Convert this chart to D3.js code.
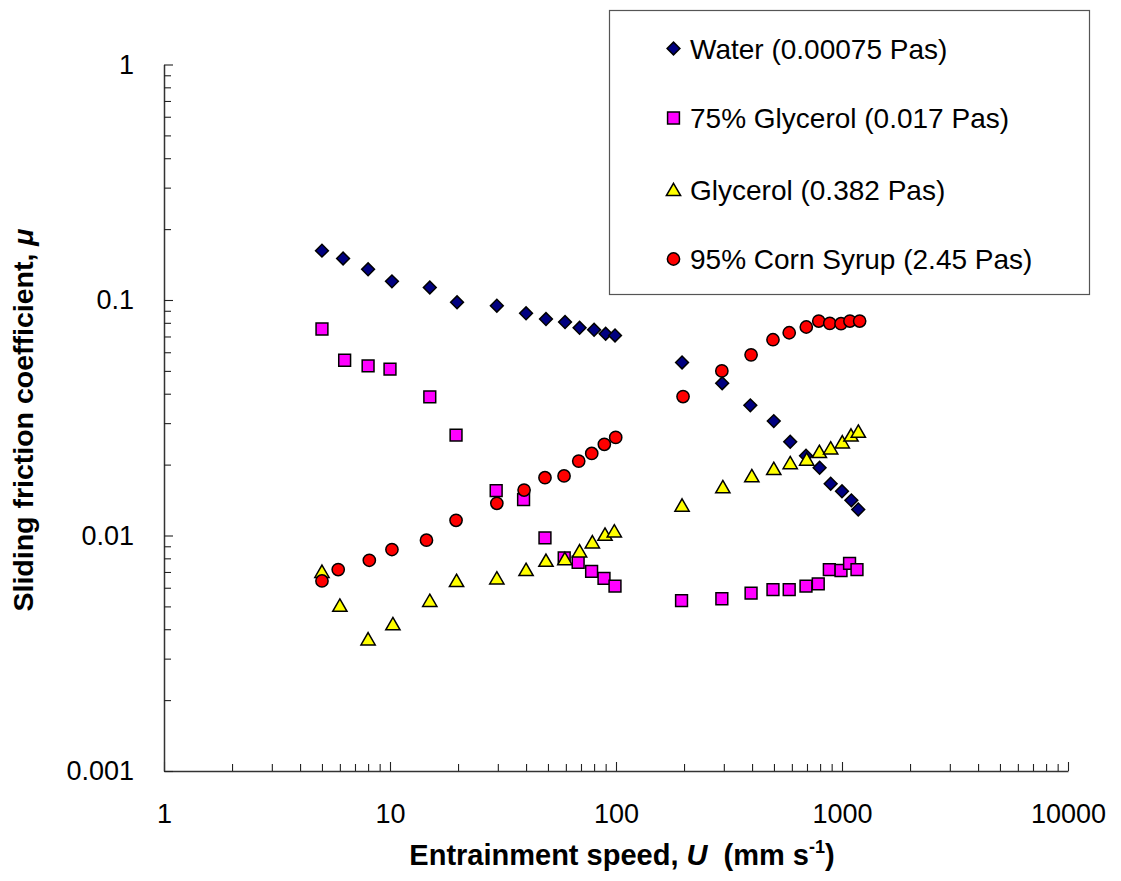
<!DOCTYPE html>
<html>
<head>
<meta charset="utf-8">
<script src="https://cdn.jsdelivr.net/npm/d3@7"></script>
<style>
  html, body { margin: 0; padding: 0; background: #fff; }
  svg { display: block; font-family: "Liberation Sans", Arial, sans-serif; }
</style>
</head>
<body>
<svg id="chart" width="1121" height="881"></svg>
<script>
// Entrainment speed U (mm/s) and sliding friction coefficient for each fluid
const speedWater = [5, 6.2, 8, 10.2, 15, 19.8, 29.7, 40, 49, 59.5, 69, 80, 90, 99, 196, 295, 393, 499, 590, 693, 796, 891, 1000, 1100, 1180];
const muWater    = [0.162, 0.150, 0.135, 0.120, 0.113, 0.0978, 0.0946, 0.0878, 0.083, 0.0806, 0.0762, 0.0747, 0.0719, 0.0707, 0.0543, 0.0443, 0.0357, 0.0306, 0.0250, 0.0218, 0.0194, 0.0166, 0.0154, 0.0141, 0.0129];

const speedGly75 = [5, 6.3, 8, 10, 15, 19.6, 29.5, 39, 48.5, 59, 68, 78, 88.5, 99, 195, 294, 396, 495, 584, 693, 785, 879, 990, 1080, 1165];
const muGly75    = [0.0753, 0.0555, 0.0525, 0.0509, 0.0388, 0.0267, 0.0155, 0.0142, 0.00977, 0.00804, 0.00770, 0.00704, 0.00658, 0.00610, 0.00529, 0.00539, 0.00569, 0.00589, 0.00589, 0.00610, 0.00623, 0.00716, 0.00710, 0.00762, 0.00716];

const speedGly = [5, 6, 8, 10.3, 15, 19.7, 29.7, 40, 49, 59.4, 69, 78.6, 89.4, 98.3, 196, 297, 399, 499, 590, 698, 794, 891, 1003, 1096, 1181];
const muGly    = [0.00691, 0.00496, 0.00357, 0.00414, 0.00520, 0.00632, 0.00648, 0.00704, 0.00770, 0.00783, 0.00844, 0.00922, 0.00993, 0.01026, 0.0132, 0.0158, 0.0176, 0.0189, 0.0200, 0.0207, 0.0223, 0.0231, 0.0245, 0.0262, 0.0272];

const speedCorn = [5, 5.9, 8.1, 10.2, 14.5, 19.6, 29.7, 39.2, 48.5, 58.9, 68.4, 78.1, 88.8, 99.7, 198, 294, 396, 495, 584, 695, 789, 883, 990, 1084, 1197];
const muCorn    = [0.00641, 0.00717, 0.00785, 0.00872, 0.00955, 0.0116, 0.0137, 0.0156, 0.0176, 0.0179, 0.0207, 0.0223, 0.0244, 0.0261, 0.0389, 0.0500, 0.0585, 0.0678, 0.0726, 0.0768, 0.0814, 0.0796, 0.0793, 0.0814, 0.0814];

const seriesNames = ["Water (0.00075 Pas)", "75% Glycerol (0.017 Pas)", "Glycerol (0.382 Pas)", "95% Corn Syrup (2.45 Pas)"];
const xTickLabels = ["1", "10", "100", "1000", "10000"];
const yTickLabels = ["0.001", "0.01", "0.1", "1"];

const series = [
  { name: seriesNames[0], u: speedWater, mu: muWater, shape: "diamond",  fill: "#000080" },
  { name: seriesNames[1], u: speedGly75, mu: muGly75, shape: "square",   fill: "#FF00FF" },
  { name: seriesNames[2], u: speedGly,   mu: muGly,   shape: "triangle", fill: "#FFFF00" },
  { name: seriesNames[3], u: speedCorn,  mu: muCorn,  shape: "circle",   fill: "#FF0000" }
];

const svg = d3.select("#chart");
const x = d3.scaleLog().domain([1, 10000]).range([164, 1068]);
const y = d3.scaleLog().domain([0.001, 1]).range([771, 64.5]);

// tick values: every 1..9 multiple in each decade
function logTicks(lo, hi) {
  const t = [];
  for (let d = lo; d < hi; d *= 10) for (let m = 1; m < 10; m++) t.push(+(d * m).toPrecision(6));
  t.push(hi);
  return t;
}
const isMajor = v => Math.abs(Math.log10(v) - Math.round(Math.log10(v))) < 1e-9;

const xTicks = logTicks(1, 10000);
const yTicks = logTicks(0.001, 1);

// x axis (ticks point inward)
const gx = svg.append("g").attr("transform", "translate(0,771)")
  .call(d3.axisBottom(x).tickValues(xTicks).tickSizeInner(-9).tickSizeOuter(0).tickPadding(33)
    .tickFormat(v => isMajor(v) ? xTickLabels[Math.round(Math.log10(v))] : ""));
gx.selectAll(".tick line").attr("y2", d => isMajor(d) ? -9 : -7).attr("stroke", "#222").attr("stroke-width", 1.1);

// y axis (ticks point inward)
const gy = svg.append("g").attr("transform", "translate(164,0)")
  .call(d3.axisLeft(y).tickValues(yTicks).tickSizeInner(-9).tickSizeOuter(0).tickPadding(30)
    .tickFormat(v => isMajor(v) ? yTickLabels[Math.round(Math.log10(v)) + 3] : ""));
gy.selectAll(".tick line").attr("x2", d => isMajor(d) ? 9 : 7).attr("stroke", "#222").attr("stroke-width", 1.1);

[gx, gy].forEach(g => {
  g.select(".domain").attr("stroke", "#333").attr("stroke-width", 1.5);
  g.selectAll(".tick text").attr("font-family", "Liberation Sans, Arial, sans-serif")
    .attr("font-size", 27).attr("fill", "#000");
});

// marker generator
function markerPath(shape) {
  switch (shape) {
    case "diamond":  return d3.symbol(d3.symbolSquare, 82)();
    case "square":   return d3.symbol(d3.symbolSquare, 140)();
    case "triangle": return d3.symbol(d3.symbolTriangle, 88)();
    default:         return d3.symbol(d3.symbolCircle, 118)();
  }
}
function drawMarker(g, s, cx, cy) {
  g.append("path")
    .attr("d", markerPath(s.shape))
    .attr("transform", `translate(${cx},${cy})` + (s.shape === "diamond" ? " rotate(45)" : ""))
    .attr("fill", s.fill)
    .attr("stroke", "#000")
    .attr("stroke-width", 1.5);
}

// data points
const plot = svg.append("g");
series.forEach(s => {
  const g = plot.append("g");
  s.u.forEach((u, i) => drawMarker(g, s, x(u), y(s.mu[i])));
});

// legend
const legend = svg.append("g");
legend.append("rect").attr("x", 609.5).attr("y", 10.5).attr("width", 480).attr("height", 284)
  .attr("fill", "#fff").attr("stroke", "#555").attr("stroke-width", 1.2);
const rowY = [48.5, 118, 189.5, 259];
series.forEach((s, i) => {
  drawMarker(legend, s, 673.5, rowY[i] + (s.shape === "triangle" ? 2 : 0));
  legend.append("text").attr("x", 690).attr("y", rowY[i]).attr("dy", "0.36em")
    .attr("font-size", 28).attr("fill", "#000").text(s.name);
});

// axis titles
const xt = svg.append("text").attr("x", 622).attr("y", 865).attr("text-anchor", "middle")
  .attr("font-size", 29).attr("font-weight", "bold").attr("fill", "#000");
xt.append("tspan").text("Entrainment speed, ");
xt.append("tspan").attr("font-style", "italic").text("U");
xt.append("tspan").attr("xml:space", "preserve").text("  (mm s");
xt.append("tspan").attr("font-size", 18).attr("dy", -12).text("-1");
xt.append("tspan").attr("dy", 12).text(")");

const yt = svg.append("text").attr("transform", "translate(33,420) rotate(-90)").attr("text-anchor", "middle")
  .attr("font-size", 28.5).attr("font-weight", "bold").attr("fill", "#000");
yt.append("tspan").text("Sliding friction coefficient, ");
yt.append("tspan").attr("font-style", "italic").text("μ");
</script>
</body>
</html>
